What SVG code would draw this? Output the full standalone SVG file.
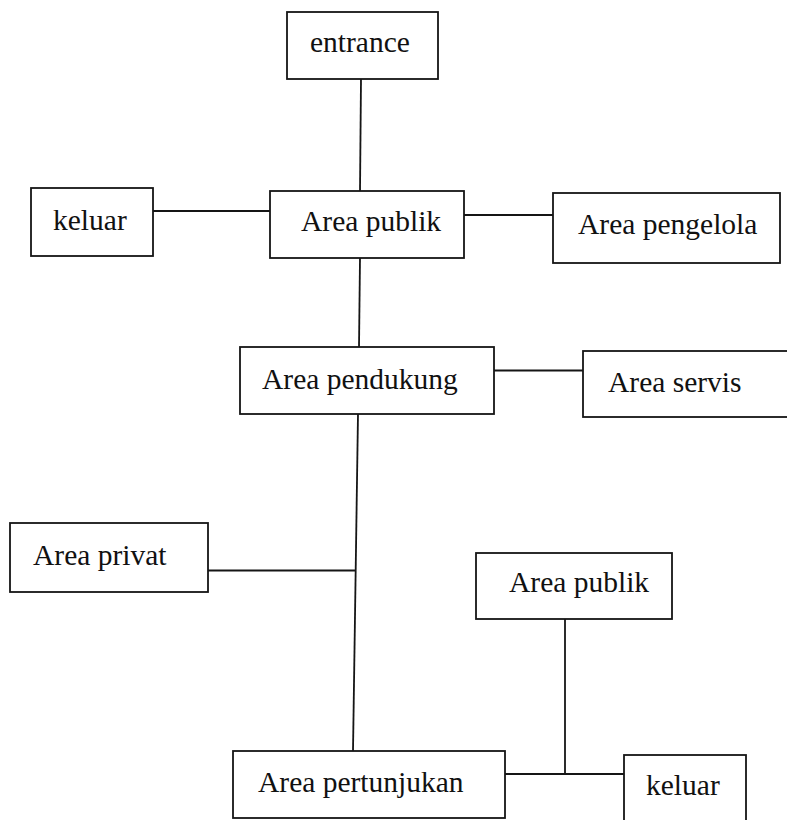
<svg xmlns="http://www.w3.org/2000/svg" width="787" height="820" viewBox="0 0 787 820">
  <style>
    .box { fill: #ffffff; stroke: #151515; stroke-width: 1.8; }
    .lbl { font-family: "Liberation Serif", "Times New Roman", serif; font-size: 29.5px; fill: #111111; }
    .wire { fill: none; stroke: #151515; stroke-width: 1.8; }
  </style>
  <rect width="787" height="820" fill="#ffffff"/>

  <!-- connectors -->
  <g id="connectors">
    <line class="wire" x1="361" y1="79" x2="360" y2="191"/>
    <line class="wire" x1="153" y1="211" x2="270" y2="211"/>
    <line class="wire" x1="464" y1="215" x2="553" y2="215"/>
    <line class="wire" x1="360" y1="258" x2="359" y2="347"/>
    <line class="wire" x1="494" y1="370.5" x2="583" y2="370.5"/>
    <line class="wire" x1="358" y1="414" x2="353" y2="751"/>
    <line class="wire" x1="208" y1="570.5" x2="355.7" y2="570.5"/>
    <line class="wire" x1="565" y1="619" x2="565" y2="774"/>
    <line class="wire" x1="505" y1="774" x2="624" y2="774"/>
  </g>

  <g id="entrance">
    <rect class="box" x="287" y="12" width="151" height="67"/>
    <text class="lbl" x="310" y="52">entrance</text>
  </g>
  <g id="keluar-top">
    <rect class="box" x="31" y="188" width="122" height="68"/>
    <text class="lbl" x="53" y="230">keluar</text>
  </g>
  <g id="area-publik-top">
    <rect class="box" x="270" y="191" width="194" height="67"/>
    <text class="lbl" x="301" y="231">Area publik</text>
  </g>
  <g id="area-pengelola">
    <rect class="box" x="553" y="193" width="227" height="70"/>
    <text class="lbl" x="578" y="234">Area pengelola</text>
  </g>
  <g id="area-pendukung">
    <rect class="box" x="240" y="347" width="254" height="67"/>
    <text class="lbl" x="262" y="389">Area pendukung</text>
  </g>
  <g id="area-servis">
    <rect class="box" x="583" y="351" width="230" height="66"/>
    <text class="lbl" x="608" y="392">Area servis</text>
  </g>
  <g id="area-privat">
    <rect class="box" x="10" y="523" width="198" height="69"/>
    <text class="lbl" x="33" y="565">Area privat</text>
  </g>
  <g id="area-publik-bottom">
    <rect class="box" x="476" y="553" width="196" height="66"/>
    <text class="lbl" x="509" y="592">Area publik</text>
  </g>
  <g id="area-pertunjukan">
    <rect class="box" x="233" y="751" width="272" height="67"/>
    <text class="lbl" x="258" y="792">Area pertunjukan</text>
  </g>
  <g id="keluar-bottom">
    <rect class="box" x="624" y="755" width="122" height="80"/>
    <text class="lbl" x="646" y="795">keluar</text>
  </g>
</svg>
